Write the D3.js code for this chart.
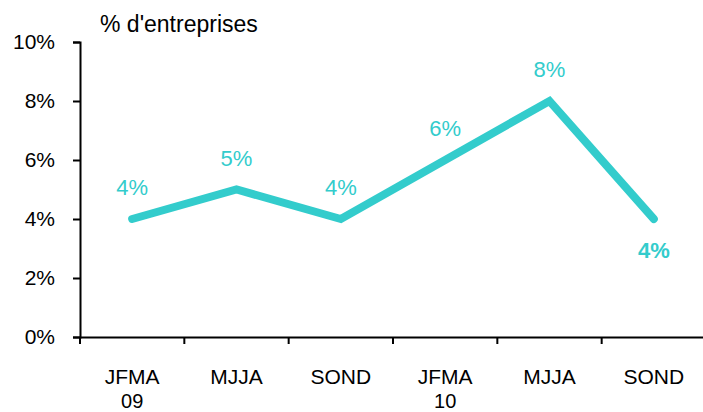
<!DOCTYPE html>
<html>
<head>
<meta charset="utf-8">
<script src="https://cdn.jsdelivr.net/npm/d3@7"></script>
<style>
  body { margin: 0; background: #fff; }
  text { font-family: "Liberation Sans", Arial, sans-serif; }
</style>
</head>
<body>
<div id="chart"></div>
<script>
// Data
const periods = ["JFMA", "MJJA", "SOND", "JFMA", "MJJA", "SOND"];
const years = ["09", "", "", "10", "", ""];
const values = [4, 5, 4, 6, 8, 4];
const yTicks = [0, 2, 4, 6, 8, 10];
const keys = periods.map((p, i) => i);

const W = 703, H = 412;
const color = "#33CCCC";
const fs = 22;

const svg = d3.select("#chart").append("svg")
  .attr("width", W).attr("height", H);

const x = d3.scaleBand().domain(keys).range([80, 706]);
const y = d3.scaleLinear().domain([0, 10]).range([337, 42]);

// Y axis
const yAxis = svg.append("g")
  .attr("transform", "translate(80,0)")
  .call(d3.axisLeft(y).tickValues(yTicks).tickFormat(d => d + "%").tickSize(7).tickPadding(18));
yAxis.select(".domain").attr("stroke", "#000").attr("stroke-width", 2);
yAxis.selectAll(".tick line").attr("stroke-width", 2);
yAxis.selectAll(".tick text").attr("font-size", 21).attr("fill", "#000")
  .attr("font-family", "Liberation Sans, Arial, sans-serif");

// X axis
const xAxis = svg.append("g")
  .attr("transform", "translate(0,337)")
  .call(d3.axisBottom(x).tickSize(0).tickFormat(""));
xAxis.select(".domain").attr("stroke", "#000").attr("stroke-width", 2);
const boundaries = keys.map(k => x(k));
xAxis.selectAll(".sep").data(boundaries).enter().append("line")
  .attr("x1", d => d).attr("x2", d => d)
  .attr("y1", 0).attr("y2", 7)
  .attr("stroke", "#000").attr("stroke-width", 2);

// category labels, two lines
const labels = svg.append("g");
labels.selectAll(".p").data(keys).enter().append("text")
  .attr("x", d => x(d) + x.bandwidth() / 2)
  .attr("y", 384)
  .attr("text-anchor", "middle")
  .attr("font-size", 21)
  .text(d => periods[d]);
labels.selectAll(".yr").data(keys.filter(d => years[d])).enter().append("text")
  .attr("x", d => x(d) + x.bandwidth() / 2)
  .attr("y", 408)
  .attr("text-anchor", "middle")
  .attr("font-size", 20)
  .text(d => years[d]);

// Title
svg.append("text")
  .attr("x", 100).attr("y", 32)
  .attr("font-size", 23)
  .text("% d'entreprises");

// Line
const line = d3.line()
  .x(d => x(d) + x.bandwidth() / 2)
  .y(d => y(values[d]));

svg.append("path")
  .datum(keys)
  .attr("fill", "none")
  .attr("stroke", color)
  .attr("stroke-width", 8)
  .attr("stroke-linecap", "round")
  .attr("stroke-linejoin", "miter")
  .attr("d", line);

// Value labels
const last = keys.length - 1;
svg.selectAll(".val").data(keys).enter().append("text")
  .attr("x", d => x(d) + x.bandwidth() / 2)
  .attr("y", d => d === last ? y(values[d]) + 39 : y(values[d]) - 24)
  .attr("text-anchor", "middle")
  .attr("font-size", fs)
  .attr("font-weight", d => d === last ? "bold" : "normal")
  .attr("fill", color)
  .text(d => values[d] + "%");
</script>
</body>
</html>
